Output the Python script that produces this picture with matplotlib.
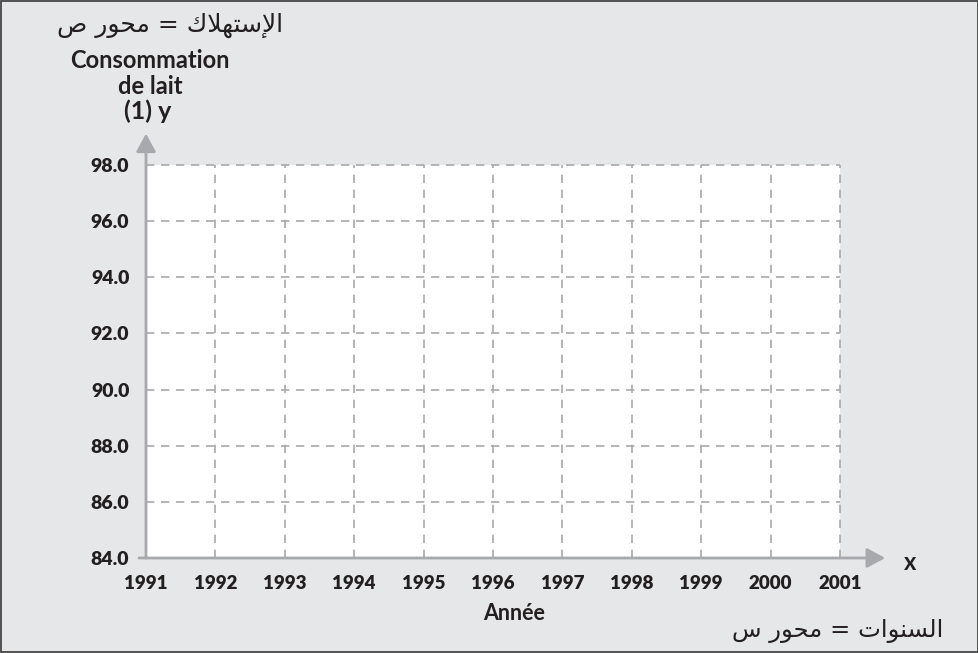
import matplotlib
matplotlib.use("Agg")
import matplotlib.pyplot as plt
from matplotlib.patches import Rectangle, FancyArrowPatch

# axis values (empty grid, no series)
years = list(range(1991, 2002))
consumption_ticks = [84.0, 86.0, 88.0, 90.0, 92.0, 94.0, 96.0, 98.0]

# Arabic labels written in presentation forms, visual (left-to-right) order,
# because matplotlib does no shaping / bidi
ar_y_label = "\uFEB9 \uFEAD\uFEEE\uFEA4\uFEE3 = \uFED9\uFEFC\uFEEC\uFE98\uFEB3\uFEF9\uFE8D"
ar_x_label = "\uFEB1 \uFEAD\uFEEE\uFEA4\uFEE3 = \uFE95\uFE8D\uFEEE\uFEE8\uFEB4\uFEDF\uFE8D"

bg = "#e6e7e8"
grid_col = "#a7a9ac"
txt = "#231f20"
font = "Lato"

fig = plt.figure(figsize=(9.79, 6.53), dpi=100)
fig.patch.set_facecolor(bg)
ax = fig.add_axes([146 / 979, 1 - 558 / 653, 694 / 979, 393 / 653])
ax.set_facecolor("white")

ax.set_xlim(years[0], years[-1])
ax.set_ylim(consumption_ticks[0], consumption_ticks[-1])
ax.set_xticks(years)
ax.set_yticks(consumption_ticks)
ax.set_xticklabels([str(y) for y in years], fontfamily=font, fontweight="heavy",
                   fontsize=13.5, color=txt)
ax.set_yticklabels([f"{v:.1f}" for v in consumption_ticks], fontfamily=font,
                   fontweight="heavy", fontsize=14, color=txt)
ax.tick_params(axis="x", length=0, pad=12)
ax.tick_params(axis="y", length=0, pad=12)

for s in ax.spines.values():
    s.set_visible(False)

# dashed grid
for y in consumption_ticks[1:]:
    ax.plot([years[0], years[-1]], [y, y], ls=(0, (5, 4)), color=grid_col, lw=1.2,
            clip_on=False, zorder=1)
for x in years[1:]:
    ax.plot([x, x], [consumption_ticks[0], consumption_ticks[-1]], ls=(0, (5, 4)),
            color=grid_col, lw=1.2, clip_on=False, zorder=1)

# axes with arrows
arr = dict(arrowstyle="-|>,head_length=1.1,head_width=0.6", mutation_scale=10,
           color=grid_col, lw=2, shrinkA=0, shrinkB=0, clip_on=False, zorder=3)
ax.add_patch(FancyArrowPatch((-0.01, 0), (1.065, 0), transform=ax.transAxes, **arr))
ax.add_patch(FancyArrowPatch((0, 0), (0, 1.08), transform=ax.transAxes, **arr))

# texts
fig.text(170 / 979, 1 - 25 / 653, ar_y_label, ha="center", va="center",
         fontfamily="DejaVu Sans", fontsize=18, color=txt)
fig.text(150 / 979, 1 - 60 / 653, "Consommation", ha="center", va="center",
         fontfamily=font, fontweight="bold", fontsize=17, color=txt)
fig.text(150 / 979, 1 - 86 / 653, "de lait", ha="center", va="center",
         fontfamily=font, fontweight="bold", fontsize=17, color=txt)
fig.text(148 / 979, 1 - 111 / 653, "(1) y", ha="center", va="center",
         fontfamily=font, fontweight="bold", fontsize=18, color=txt)
fig.text(910 / 979, 1 - 563 / 653, "x", ha="center", va="center",
         fontfamily=font, fontweight="bold", fontsize=17, color=txt)
fig.text(514 / 979, 1 - 613 / 653, "Année", ha="center", va="center",
         fontfamily=font, fontweight="bold", fontsize=15.5, color=txt)
fig.text(838 / 979, 1 - 631 / 653, ar_x_label, ha="center", va="center",
         fontfamily="DejaVu Sans", fontsize=17.5, color=txt)

# outer frame
fig.add_artist(Rectangle((0.001, 0.001), 0.998, 0.998, transform=fig.transFigure,
                         fill=False, edgecolor="#3a3a3a", lw=1.2))

fig.savefig("out.png", dpi=100, facecolor=bg)
